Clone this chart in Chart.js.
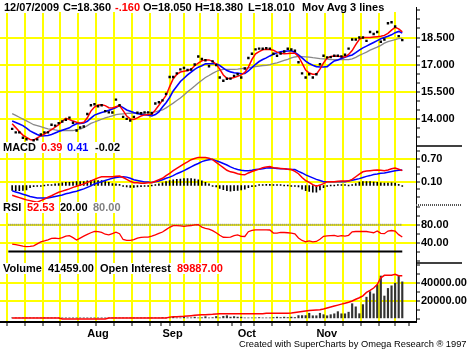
<!DOCTYPE html>
<html>
<head>
<meta charset="utf-8">
<script src="https://cdn.jsdelivr.net/npm/chart.js@4.4.0/dist/chart.umd.min.js"></script>
<style>
html, body { margin: 0; padding: 0; background: #fff; }
#wrap { position: relative; width: 470px; height: 353px; overflow: hidden;
  font-family: Arial, "Liberation Sans", sans-serif; font-weight: bold; font-size: 11px; }
canvas { position: absolute; left: 0; top: 0; }
.t { position: absolute; white-space: pre; line-height: 11px; background: #fff; color: #000; }
.r { color: #f00; } .b { color: #00f; } .g { color: #808080; }
#hdr { position: absolute; left: 0; top: 0; width: 414px; height: 12px; background: #fff; }
#foot { position: absolute; left: 239px; top: 339px; font-weight: normal; font-size: 9.3px; white-space: pre; }
</style>
</head>
<body>
<div id="wrap">
  <canvas id="chart" width="470" height="353"></canvas>
  <div id="hdr"></div>
  <span class="t" style="left:4px;top:2px">12/07/2009</span>
  <span class="t" style="left:63px;top:2px">C=18.360</span>
  <span class="t r" style="left:115px;top:2px">-.160</span>
  <span class="t" style="left:143px;top:2px">O=18.050</span>
  <span class="t" style="left:195px;top:2px">H=18.380</span>
  <span class="t" style="left:248px;top:2px">L=18.010</span>
  <span class="t" style="left:302px;top:2px">Mov Avg 3 lines</span>

  <span class="t" style="left:3px;top:142px">MACD</span>
  <span class="t r" style="left:41px;top:142px">0.39</span>
  <span class="t b" style="left:67px;top:142px">0.41</span>
  <span class="t" style="left:95px;top:142px">-0.02</span>

  <span class="t" style="left:3px;top:202px">RSI</span>
  <span class="t r" style="left:27px;top:202px">52.53</span>
  <span class="t" style="left:60px;top:202px">20.00</span>
  <span class="t g" style="left:93px;top:202px">80.00</span>

  <span class="t" style="left:3px;top:263px">Volume</span>
  <span class="t" style="left:48px;top:263px">41459.00</span>
  <span class="t" style="left:100px;top:263px">Open Interest</span>
  <span class="t r" style="left:177px;top:263px">89887.00</span>

  <div id="foot">Created with SuperCharts by Omega Research ® 1997</div>
</div>
<script>
// daily values, 02 Jul 2009 .. 07 Dec 2009 (110 sessions)
const closes = [
  13.47, 13.28, 13.28, 12.98, 12.90, 12.66, 12.84, 12.89, 13.16, 13.28,
  13.28, 13.70, 13.65, 13.79, 13.88, 13.97, 14.09, 13.81, 13.38, 13.55,
  13.60, 14.29, 14.77, 14.83, 14.72, 14.77, 14.45, 14.38, 14.37, 15.08,
  14.77, 14.13, 14.02, 13.93, 14.13, 14.36, 14.33, 14.38, 14.38, 14.33,
  14.87, 14.94, 15.04, 15.40, 16.33, 16.33, 16.53, 16.75, 16.82, 16.71,
  16.74, 17.02, 17.46, 17.32, 17.25, 16.92, 17.19, 16.98, 16.30, 16.12,
  16.23, 16.24, 16.39, 16.48, 16.30, 16.80, 17.37, 17.61, 17.85, 17.89,
  17.88, 17.91, 17.89, 17.61, 17.50, 17.62, 17.73, 17.88, 17.84, 17.77,
  17.14, 16.53, 16.30, 16.48, 16.30, 16.48, 17.03, 17.50, 17.41, 17.42,
  17.50, 17.50, 17.46, 17.55, 17.89, 18.39, 18.39, 18.50, 18.50, 18.32,
  18.81, 18.70, 18.81, 18.27, 18.39, 19.29, 19.34, 19.11, 18.58, 18.36
];
const maFast = [
  13.75, 13.54, 13.32, 13.13, 13.00, 12.89, 12.85, 12.97, 13.08, 13.19,
  13.30, 13.43, 13.56, 13.70, 13.89, 14.05, 13.99, 13.90, 13.84, 13.79,
  13.83, 14.08, 14.45, 14.67, 14.78, 14.80, 14.75, 14.64, 14.62, 14.69,
  14.76, 14.48, 14.18, 14.02, 13.99, 14.08, 14.18, 14.24, 14.26, 14.27,
  14.51, 14.77, 15.04, 15.31, 15.80, 16.23, 16.47, 16.60, 16.64, 16.68,
  16.75, 16.95, 17.09, 17.22, 17.27, 17.27, 17.19, 17.03, 16.76, 16.44,
  16.26, 16.25, 16.30, 16.36, 16.44, 16.58, 16.87, 17.30, 17.60, 17.73,
  17.83, 17.85, 17.84, 17.80, 17.70, 17.63, 17.61, 17.62, 17.64, 17.64,
  17.46, 17.09, 16.71, 16.55, 16.48, 16.48, 16.76, 17.11, 17.37, 17.46,
  17.49, 17.47, 17.45, 17.43, 17.57, 17.78, 18.11, 18.40, 18.50, 18.50,
  18.50, 18.53, 18.55, 18.57, 18.62, 18.73, 18.91, 19.06, 18.98, 18.81
];
const maMid = [
  13.90, 13.82, 13.74, 13.65, 13.51, 13.36, 13.26, 13.16, 13.08, 13.09,
  13.11, 13.16, 13.24, 13.32, 13.39, 13.46, 13.53, 13.66, 13.75, 13.77,
  13.79, 13.89, 14.06, 14.23, 14.30, 14.37, 14.43, 14.49, 14.56, 14.65,
  14.75, 14.64, 14.51, 14.44, 14.37, 14.31, 14.28, 14.25, 14.22, 14.18,
  14.26, 14.41, 14.67, 14.91, 15.20, 15.56, 15.82, 16.08, 16.26, 16.44,
  16.60, 16.75, 16.87, 16.95, 17.05, 17.06, 17.06, 17.06, 16.96, 16.82,
  16.68, 16.61, 16.56, 16.54, 16.51, 16.52, 16.66, 16.84, 17.03, 17.18,
  17.29, 17.38, 17.49, 17.58, 17.66, 17.72, 17.74, 17.76, 17.77, 17.68,
  17.54, 17.38, 17.20, 17.07, 16.98, 16.90, 16.88, 16.88, 16.90, 17.06,
  17.21, 17.27, 17.34, 17.41, 17.48, 17.54, 17.67, 17.81, 17.93, 18.03,
  18.13, 18.23, 18.33, 18.43, 18.50, 18.57, 18.65, 18.77, 18.84, 18.75
];
const maSlow = [
  14.31, 14.21, 14.11, 14.01, 13.91, 13.81, 13.70, 13.65, 13.59, 13.53,
  13.47, 13.45, 13.41, 13.38, 13.38, 13.38, 13.38, 13.38, 13.43, 13.46,
  13.54, 13.65, 13.77, 13.85, 13.92, 14.00, 14.08, 14.13, 14.19, 14.25,
  14.28, 14.30, 14.32, 14.33, 14.33, 14.33, 14.33, 14.34, 14.37, 14.39,
  14.41, 14.46, 14.51, 14.63, 14.76, 14.89, 15.03, 15.17, 15.33, 15.51,
  15.67, 15.83, 16.00, 16.15, 16.30, 16.41, 16.53, 16.63, 16.71, 16.75,
  16.75, 16.75, 16.75, 16.76, 16.79, 16.81, 16.83, 16.87, 16.90, 16.93,
  16.96, 16.97, 17.01, 17.06, 17.10, 17.17, 17.24, 17.30, 17.38, 17.43,
  17.46, 17.45, 17.44, 17.42, 17.39, 17.37, 17.34, 17.33, 17.31, 17.29,
  17.28, 17.28, 17.28, 17.28, 17.28, 17.33, 17.41, 17.52, 17.61, 17.70,
  17.81, 17.89, 17.97, 18.07, 18.19, 18.27, 18.33, 18.39, 18.44, 18.46
];
const macdLine = [
  -0.26, -0.29, -0.32, -0.35, -0.38, -0.40, -0.42, -0.44, -0.40, -0.36,
  -0.31, -0.27, -0.22, -0.18, -0.15, -0.12, -0.09, -0.05, -0.02, 0.01,
  0.04, 0.08, 0.12, 0.16, 0.20, 0.23, 0.23, 0.23, 0.23, 0.24,
  0.25, 0.21, 0.16, 0.11, 0.07, 0.07, 0.06, 0.06, 0.07, 0.07,
  0.11, 0.15, 0.19, 0.26, 0.32, 0.39, 0.45, 0.51, 0.57, 0.62,
  0.68, 0.71, 0.74, 0.74, 0.74, 0.72, 0.68, 0.61, 0.54, 0.47,
  0.40, 0.36, 0.34, 0.31, 0.29, 0.28, 0.33, 0.37, 0.40, 0.43,
  0.47, 0.49, 0.50, 0.47, 0.46, 0.45, 0.44, 0.43, 0.42, 0.37,
  0.31, 0.21, 0.13, 0.08, 0.02, -0.02, 0.01, 0.05, 0.10, 0.10,
  0.10, 0.11, 0.12, 0.12, 0.12, 0.16, 0.23, 0.30, 0.36, 0.38,
  0.39, 0.40, 0.41, 0.40, 0.39, 0.41, 0.44, 0.46, 0.43, 0.39
];
const macdSignal = [
  -0.14, -0.17, -0.20, -0.23, -0.26, -0.29, -0.31, -0.33, -0.33, -0.33,
  -0.33, -0.31, -0.29, -0.27, -0.25, -0.22, -0.20, -0.17, -0.15, -0.12,
  -0.09, -0.05, -0.01, 0.04, 0.07, 0.10, 0.13, 0.16, 0.19, 0.21,
  0.22, 0.23, 0.22, 0.19, 0.15, 0.13, 0.11, 0.09, 0.09, 0.08,
  0.10, 0.12, 0.15, 0.19, 0.22, 0.26, 0.31, 0.35, 0.39, 0.44,
  0.49, 0.54, 0.58, 0.63, 0.66, 0.68, 0.69, 0.65, 0.62, 0.58,
  0.54, 0.49, 0.45, 0.42, 0.40, 0.39, 0.39, 0.40, 0.42, 0.43,
  0.44, 0.46, 0.47, 0.46, 0.45, 0.44, 0.44, 0.43, 0.42, 0.42,
  0.37, 0.33, 0.28, 0.24, 0.20, 0.16, 0.13, 0.10, 0.10, 0.10,
  0.10, 0.10, 0.10, 0.10, 0.12, 0.14, 0.16, 0.18, 0.21, 0.24,
  0.26, 0.29, 0.30, 0.32, 0.33, 0.35, 0.37, 0.39, 0.40, 0.41
];
const macdHist = [
  -0.13, -0.14, -0.14, -0.13, -0.12, -0.06, -0.03, -0.02, -0.01, 0.00,
  0.01, 0.02, 0.04, 0.05, 0.07, 0.08, 0.08, 0.09, 0.10, 0.10,
  0.10, 0.12, 0.13, 0.13, 0.13, 0.13, 0.10, 0.08, 0.05, 0.04,
  0.03, -0.02, -0.04, -0.05, -0.05, -0.04, -0.03, -0.02, -0.01, 0.00,
  0.01, 0.04, 0.07, 0.10, 0.13, 0.15, 0.16, 0.17, 0.18, 0.18,
  0.18, 0.17, 0.15, 0.12, 0.08, 0.04, -0.01, -0.04, -0.08, -0.11,
  -0.14, -0.15, -0.14, -0.13, -0.12, -0.10, -0.06, -0.03, -0.01, 0.01,
  0.02, 0.03, 0.03, 0.02, 0.01, 0.01, 0.00, 0.00, -0.01, -0.02,
  -0.04, -0.10, -0.14, -0.16, -0.18, -0.18, -0.12, -0.06, -0.01, 0.00,
  0.00, 0.01, 0.02, 0.02, 0.00, 0.02, 0.05, 0.09, 0.10, 0.10,
  0.10, 0.09, 0.08, 0.07, 0.06, 0.06, 0.07, 0.06, 0.03, -0.02
];
const rsi = [
  36.5, 35.5, 33.9, 32.2, 31.1, 31.5, 32.8, 37.2, 41.7, 43.9,
  46.3, 49.6, 50.2, 49.1, 51.3, 54.6, 55.7, 51.1, 45.9, 50.2,
  54.4, 58.3, 62.0, 65.2, 64.4, 62.8, 58.7, 57.2, 60.2, 63.3,
  59.8, 47.0, 45.2, 45.2, 46.5, 49.8, 51.7, 52.4, 52.4, 54.4,
  57.2, 60.4, 63.7, 68.9, 74.1, 77.8, 77.8, 77.2, 76.3, 77.2,
  78.1, 79.6, 80.2, 74.6, 72.0, 70.0, 66.8, 62.0, 56.5, 52.0,
  51.5, 52.4, 55.7, 57.2, 54.1, 53.7, 64.4, 67.4, 68.3, 68.3,
  68.3, 68.5, 68.1, 61.3, 61.3, 62.8, 62.6, 62.0, 61.1, 59.6,
  50.4, 44.8, 42.0, 43.9, 41.7, 42.6, 47.6, 54.1, 55.0, 55.7,
  55.9, 53.9, 55.4, 54.6, 56.3, 64.2, 64.8, 64.8, 64.8, 64.8,
  63.5, 62.0, 65.9, 60.6, 60.0, 65.9, 67.0, 65.9, 57.8, 52.53
];
const volume = [
  600, 400, 500, 300, 400, 500, 300, 400, 300, 500,
  400, 300, 400, 300, 500, 300, 400, 300, 400, 300,
  500, 400, 300, 400, 500, 300, 400, 300, 500, 400,
  300, 500, 400, 300, 400, 600, 500, 400, 600, 500,
  700, 600, 1500, 800, 1200, 1800, 700, 1000, 2200, 800,
  1200, 2000, 900, 1300, 2500, 1000, 1400, 2700, 1200, 2900,
  3600, 2000, 2600, 2000, 2000, 1000, 1000, 500, 1000, 1500,
  500, 1000, 1000, 1500, 2000, 1500, 2000, 1500, 2000, 1500,
  3700, 3700, 3700, 6300, 3500, 3500, 6300, 4700, 3500, 4700,
  5700, 8100, 5700, 5700, 7500, 17000, 13500, 5800, 16000, 24300,
  30500, 28000, 37800, 48000, 25600, 34100, 37000, 40000, 48000, 41459
];
const openInterest = [
  3400, 3400, 3400, 3400, 3400, 3400, 3400, 3400, 3400, 3400,
  3400, 3400, 3400, 3400, 1400, 1400, 1400, 1400, 1400, 1400,
  1400, 1400, 1400, 1400, 1400, 1400, 1400, 3400, 3400, 3400,
  3400, 3400, 3400, 3400, 3400, 3400, 3400, 3400, 3400, 3400,
  3400, 3400, 3400, 3400, 5400, 6000, 6400, 6800, 7200, 7800,
  8400, 9000, 9600, 10000, 10400, 11000, 11400, 12000, 12400, 12400,
  12400, 12400, 12400, 12400, 12400, 12400, 12400, 12400, 12400, 12400,
  12400, 13400, 13400, 13400, 13400, 13400, 13400, 13400, 14000, 15000,
  16000, 17000, 18000, 19000, 19600, 20000, 20400, 22000, 24000, 26000,
  28000, 30000, 32000, 34000, 36000, 38500, 42000, 45000, 49000, 56000,
  60000, 65000, 72000, 86000, 91000, 91000, 91300, 93000, 90000, 89887
];
const rsiLevels = [20, 80];

// session index of each week's first day, and of each month's first day
const weekStarts = [1, 6, 11, 16, 21, 26, 31, 36, 41, 46, 50, 55, 60, 65, 70, 75, 80, 85, 90, 95, 100, 105, 109];
const monthStarts = [21, 42, 63, 85];
const monthNames = ['Aug', 'Sep', 'Oct', 'Nov'];

const priceLabels = [14.0, 15.5, 17.0, 18.5];
const macdLabels = [0.10, 0.70];
const rsiLabels = [40, 80];
const volLabels = [20000, 40000];

const YELLOW = '#ffff00';
const FONT = { family: 'Arial, "Liberation Sans", sans-serif', size: 11, weight: 'bold' };
const NONE = 'rgba(0,0,0,0)';
const X_MIN = -1.074, X_MAX = 110.51;
const lastDay = closes.length - 1;

const pts = arr => arr.map((v, i) => ({ x: i, y: v }));
const level = v => [{ x: X_MIN, y: v }, { x: lastDay, y: v }];

function steps(from, to, step) {
  const out = [];
  for (let v = from; v <= to + 1e-9; v += step) out.push(Math.round(v * 1000) / 1000);
  return out;
}

function paneAxis(min, max, minor, labelled, digits, weight) {
  const has = v => labelled.some(l => Math.abs(l - v) < 1e-6);
  return {
    type: 'linear', position: 'right', stack: 'panes', stackWeight: weight,
    min, max,
    afterBuildTicks: s => { s.ticks = minor.map(v => ({ value: v })); },
    afterFit: s => { s.width = 54; },
    ticks: { autoSkip: false, font: FONT, color: '#000', padding: 1,
      callback: v => has(v) ? v.toFixed(digits) : '' },
    grid: { color: c => c.tick && has(c.tick.value) ? YELLOW : NONE, lineWidth: 2,
      tickColor: '#000', tickLength: 4, tickWidth: 1 },
    border: { color: '#000', width: 1 }
  };
}

const xTicks = [...new Set(weekStarts.concat(monthStarts))].sort((a, b) => a - b);

// short separators between the panes, right of the plot
const paneLines = {
  id: 'paneLines',
  afterDraw(chart) {
    const ctx = chart.ctx, r = chart.chartArea.right;
    ctx.save();
    ['yPrice', 'yMacd', 'yRsi'].forEach((id, k) => {
      const y = Math.round(chart.scales[id].bottom);
      ctx.strokeStyle = k === 1 ? '#555' : '#000';
      ctx.lineWidth = k === 1 ? 2 : 1.5;
      ctx.setLineDash(k === 1 ? [1, 1] : []);
      ctx.beginPath(); ctx.moveTo(r, y); ctx.lineTo(r + 46, y); ctx.stroke();
    });
    ctx.restore();
  }
};

const line = (data, color, yAxisID, width) => ({
  type: 'line', data: pts(data), yAxisID, borderColor: color, borderWidth: width,
  pointRadius: 0, tension: 0, fill: false
});

new Chart(document.getElementById('chart'), {
  type: 'line',
  data: {
    datasets: [
      { type: 'line', data: pts(closes), yAxisID: 'yPrice', showLine: false,
        pointStyle: 'rect', pointRadius: 1.7, pointBorderWidth: 0, backgroundColor: '#000' },
      line(maFast, '#ff0000', 'yPrice', 1.5),
      line(maMid, '#0000ff', 'yPrice', 1.6),
      line(maSlow, '#888888', 'yPrice', 1.3),
      line(macdLine, '#ff0000', 'yMacd', 1.5),
      line(macdSignal, '#0000ff', 'yMacd', 1.5),
      { type: 'bar', data: pts(macdHist), yAxisID: 'yMacd', grouped: false,
        backgroundColor: '#000', barThickness: 1, minBarLength: 1 },
      line(rsi, '#ff0000', 'yRsi', 1.3),
      { type: 'line', data: level(rsiLevels[0]), yAxisID: 'yRsi', borderColor: '#000',
        borderWidth: 2, pointRadius: 0 },
      { type: 'line', data: level(rsiLevels[1]), yAxisID: 'yRsi', borderColor: '#808080',
        borderWidth: 2, borderDash: [1, 1], pointRadius: 0 },
      line(openInterest, '#ff0000', 'yOi', 1.5),
      { type: 'bar', data: pts(volume), yAxisID: 'yVol', grouped: false,
        backgroundColor: '#333', barThickness: 1.5, minBarLength: 1 }
    ]
  },
  options: {
    responsive: false,
    animation: false,
    layout: { padding: 0, autoPadding: false },
    plugins: { legend: { display: false }, tooltip: { enabled: false } },
    scales: {
      x: {
        type: 'linear', position: 'bottom', min: X_MIN, max: X_MAX,
        afterBuildTicks: s => { s.ticks = xTicks.map(v => ({ value: v })); },
        afterFit: s => { s.height = 31; },
        ticks: { autoSkip: false, maxRotation: 0, align: 'start', font: FONT, color: '#000', padding: 1,
          callback: v => { const k = monthStarts.indexOf(v); return k >= 0 ? monthNames[k] : ''; } },
        grid: { color: c => c.tick && weekStarts.includes(c.tick.value) ? YELLOW : NONE, lineWidth: 2,
          tickColor: '#000', tickLength: 4, tickWidth: 1 },
        border: { color: '#000', width: 2 }
      },
      yPrice: paneAxis(12.53, 20.15, steps(13, 20, 0.5), priceLabels, 3, 141.7),
      yMacd: paneAxis(-0.503, 1.042, steps(-0.3, 0.9, 0.2), macdLabels, 2, 60),
      yRsi: paneAxis(-5.6, 124.8, steps(0, 120, 20), rsiLabels, 2, 60),
      yVol: paneAxis(-3480, 62400, steps(0, 60000, 10000), volLabels, 2, 60.3),
      yOi: { type: 'linear', display: false, position: 'right', min: -4594, max: 639200 }
    }
  },
  plugins: [paneLines]
});
</script>
</body>
</html>
